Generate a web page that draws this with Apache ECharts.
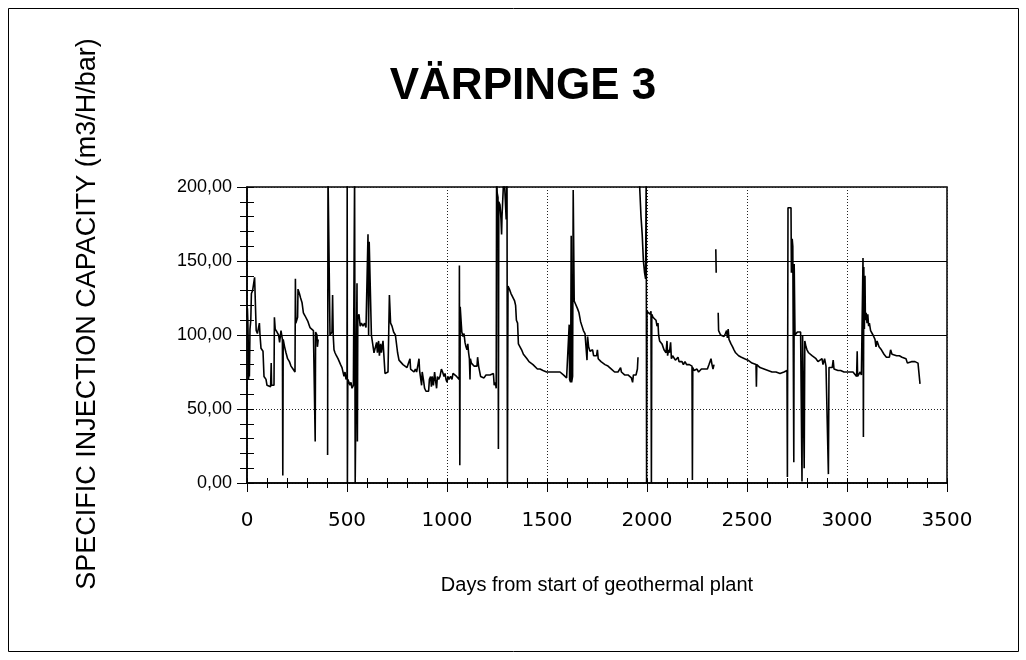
<!DOCTYPE html>
<html><head><meta charset="utf-8">
<script src="https://cdn.jsdelivr.net/npm/echarts/dist/echarts.min.js"></script>
<style>html,body{margin:0;padding:0;background:#fff}#c{width:1026px;height:660px}</style>
</head><body><div id="c"></div>
<script>
// Days from start of plant, and specific injection capacity (m3/H/bar); null = gap in record
const days = [
0,2,4,6,8,10,12,15,19,22,28,33,38,44,46,52,58,62,65,70,80,85,95,100,110,118,121,123,135,137,141,150,158,163,170,177,179,181,188,195,203,212,220,230,240,242,244,250,253,255,262,268,275,282,290,298,305,310,315,320,325,332,338,341,343,350,352,356,360,
403,405,413,415,425,428,431,435,440,447,455,462,468,475,480,485,490,495,500,501,502,504,510,515,520,525,532,536,538,541,549,550,552,554,560,566,572,580,588,595,603,605,608,611,620,622,628,635,645,648,652,658,662,668,672,680,688,690,698,705,710,712,718,725,733,742,750,753,760,770,780,790,800,810,815,818,825,835,842,848,855,860,863,870,873,876,882,888,895,900,908,912,918,922,926,932,938,942,948,952,958,965,972,978,985,990,995,1000,1005,1010,1018,1025,1030,1035,1040,1048,1055,1061,1062,1064,1066,1070,1074,1080,1085,1090,1095,1100,1104,1108,1112,1115,1117,1122,1128,1135,1142,1150,1153,1158,1165,1168,1175,1185,1195,1205,1215,1225,1232,1236,1240,1244,1246,1248,1251,1255,1257,1259,1265,1270,1273,1275,1282,1285,1292,1296,1300,1302,1305,1312,1320,1330,1338,1343,1347,1353,1357,1365,1373,1382,1390,1400,1410,1420,1430,1440,1452,1465,1480,1498,1520,1545,1565,1573,1582,1590,1598,1605,1608,1611,1613,1618,1621,1623,1628,1631,1636,1645,1652,1660,1668,1675,1682,1690,1698,1700,1703,1708,1715,1722,1728,1733,1740,1748,1752,1756,1763,1770,1780,1790,1797,1805,1813,1822,1830,1838,1847,1855,1862,1868,1872,1880,1888,1897,1905,1913,1922,1928,1932,1938,1945,1952,1955,1958,
1960,1965,1970,1976,1982,1988,1993,1996,1998,2000,2005,2010,2015,2020,2022,2024,2030,2037,2045,2050,2055,2058,2063,2068,2075,2080,2085,2090,2095,2100,2103,2108,2112,2118,2122,2128,2135,2142,2148,2155,2160,2168,2175,2182,2190,2198,2205,2212,2220,2225,2227,2229,2235,2242,2250,2258,2265,2272,2280,2288,2295,2302,2310,2315,2320,2325,2330,2335,2340,
2344,2346,2350,
2356,2358,2362,2368,2372,2378,2385,2392,2398,2402,2406,2410,2415,2420,2428,2435,2443,2450,2458,2465,2472,2480,2488,2495,2505,2515,2525,2535,2545,2547,2549,2558,2565,2575,2585,2595,2605,2615,2625,2635,2645,2655,2665,2675,2685,2695,2700,2702,2705,2720,2722,2726,2729,2734,2736,2740,2745,2752,2760,2768,2773,2775,2778,2782,2786,2789,2795,2800,2808,2815,2825,2835,2845,2855,2865,2875,2880,2888,2895,2905,2907,2910,2918,2926,2931,2935,2945,2955,2968,2985,3000,3015,3030,3040,3048,3051,3053,3060,3066,3072,3078,3080,3082,3084,3087,3090,3092,3096,3100,3104,3108,3112,3118,3125,3130,3135,3140,3145,3150,3155,3160,3166,3172,3178,3185,3190,3197,3205,3212,3218,3225,3235,3248,3262,3275,3285,3295,3302,3312,3322,3332,3340,3348,3355,3362,3365
];
const capacity = [
112,118,110,96,70,78,72,104,110,128,130,130,139,139,103,101,101,108,100,91,89,72,70,66,65,65,81,66,66,112,104,102,100,95,103,97,5,97,92,88,84,82,79,77,75,138,108,108,112,131,128,125,122,115,113,112,109,107,105,106,104,103,102,28,102,100,92,97,null,
19,210,210,100,102,127,100,90,88,86,84,84,80,78,77,72,75,70,72,210,0,70,68,66,68,64,66,66,210,0,0,135,28,112,114,106,108,106,108,105,106,168,100,163,163,100,100,88,87,95,88,96,86,94,88,96,95,74,74,75,74,127,108,106,102,100,99,88,83,82,80,79,78,77,84,77,76,75,77,75,80,84,76,75,66,75,70,64,62,61,62,70,72,65,72,66,75,70,64,72,70,72,77,75,72,74,70,68,72,70,72,70,74,75,73,72,72,70,147,12,119,118,102,99,101,95,92,90,94,88,84,70,84,81,82,79,80,79,85,79,80,72,72,71,73,72,73,74,74,66,68,66,64,210,196,193,23,190,188,178,168,180,179,210,210,178,210,0,133,131,128,127,123,120,110,108,94,92,90,87,86,84,82,81,80,79,77,77,76,75,75,75,75,76,73,72,71,70,70,107,70,68,167,68,72,198,123,122,118,115,109,106,103,101,100,83,99,92,89,88,90,86,85,86,90,84,83,82,81,80,79,79,78,77,77,75,76,75,76,78,75,74,73,74,73,73,71,68,73,72,73,77,85,null,
210,195,180,168,150,142,138,210,0,116,117,116,114,116,0,114,112,113,110,106,108,100,96,95,94,93,90,90,88,96,86,90,88,95,84,86,85,83,84,85,82,83,82,80,82,80,81,80,79,79,2,78,76,75,77,75,76,77,76,77,78,77,80,82,84,80,77,80,null,
158,142,null,
115,103,102,100,99,101,99,101,103,98,104,97,96,94,92,90,88,87,86,86,85,85,84,84,83,82,81,80,80,65,80,79,78,78,77,77,76,76,75,75,75,74,74,73,75,76,76,4,186,186,142,165,160,14,148,100,101,102,103,102,102,1,100,100,10,96,92,90,88,87,86,85,84,82,81,84,80,84,79,79,6,78,77,78,83,77,76,76,76,75,75,75,75,74,72,89,72,71,75,73,72,152,31,146,104,140,110,115,108,114,106,108,103,103,100,101,97,92,96,94,92,93,90,91,87,88,85,86,85,90,87,87,86,86,85,85,84,81,82,82,81,82,83,81,81,67
];
const xTicks = [0,500,1000,1500,2000,2500,3000,3500];
const yTicks = [0,50,100,150,200];
const solidGridValues = [100,150];

const chart = echarts.init(document.getElementById('c'), null, {renderer:'canvas'});
const data = days.map((d,i)=>[d, capacity[i]]);
const FONT = 'Liberation Sans, Arial, sans-serif';
const axisCommonX = {type:'value', min:xTicks[0], max:xTicks[xTicks.length-1], interval:500};
const axisCommonY = {type:'value', min:yTicks[0], max:yTicks[yTicks.length-1], interval:50};
chart.setOption({
  animation:false,
  backgroundColor:'#fff',
  grid:{left:247, top:187, right:79, bottom:177, show:true, borderColor:'#000', borderWidth:1.5, backgroundColor:'transparent'},
  xAxis:[
    Object.assign({}, axisCommonX, {
      position:'bottom',
      axisLine:{show:true, onZero:false, lineStyle:{color:'#000', width:1.5}},
      axisTick:{show:true, inside:false, length:9, lineStyle:{color:'#000', width:1}},
      minorTick:{show:true, splitNumber:5, length:5, lineStyle:{color:'#000', width:1}},
      axisLabel:{margin:28, color:'#000', fontSize:20, fontFamily:'DejaVu Sans, sans-serif', formatter:v=>String(v)},
      splitLine:{show:true, lineStyle:{color:'#222', type:[1,2], width:1}},
      minorSplitLine:{show:false}
    }),
    Object.assign({}, axisCommonX, {
      position:'bottom', offset:0,
      axisLine:{show:false, onZero:false},
      axisTick:{show:true, inside:true, length:5, lineStyle:{color:'#000', width:1}},
      minorTick:{show:true, splitNumber:5, length:5, lineStyle:{color:'#000', width:1}},
      axisLabel:{show:false}, splitLine:{show:false}
    })
  ],
  yAxis:[
    Object.assign({}, axisCommonY, {
      position:'left',
      axisLine:{show:true, onZero:false, lineStyle:{color:'#000', width:1.5}},
      axisTick:{show:true, inside:false, length:10, lineStyle:{color:'#000', width:1}},
      minorTick:{show:true, splitNumber:5, length:7, lineStyle:{color:'#000', width:1}},
      axisLabel:{margin:15, color:'#000', fontSize:18, fontFamily:FONT,
        formatter:v=>v.toFixed(2).replace('.', ',')},
      splitLine:{show:true, lineStyle:{color:'#222', type:[1,2], width:1}}
    }),
    Object.assign({}, axisCommonY, {
      position:'left', offset:0,
      axisLine:{show:false, onZero:false},
      axisTick:{show:true, inside:true, length:7, lineStyle:{color:'#000', width:1}},
      minorTick:{show:true, splitNumber:5, length:7, lineStyle:{color:'#000', width:1}},
      axisLabel:{show:false}, splitLine:{show:false}
    })
  ],
  graphic:[
    {type:'rect', shape:{x:8.5, y:8.5, width:1010, height:643}, style:{fill:'none', stroke:'#000', lineWidth:1}, silent:true},
    {type:'text', x:523, y:87, style:{text:'VÄRPINGE 3', font:'bold 44px Liberation Sans, Arial, sans-serif', fill:'#000', textAlign:'center', textVerticalAlign:'middle'}},
    {type:'text', x:88, y:314, rotation:Math.PI/2, style:{text:'SPECIFIC INJECTION CAPACITY (m3/H/bar)', font:'27px Liberation Sans, Arial, sans-serif', fill:'#000', textAlign:'center', textVerticalAlign:'middle'}},
    {type:'text', x:597, y:585, style:{text:'Days from start of geothermal plant', font:'20px Liberation Sans, Arial, sans-serif', fill:'#000', textAlign:'center', textVerticalAlign:'middle'}}
  ],
  series:[{
    type:'line', xAxisIndex:0, yAxisIndex:0, data:data, showSymbol:false, connectNulls:false,
    lineStyle:{color:'#000', width:1.6}, clip:true,
    markLine:{silent:true, symbol:'none', label:{show:false}, animation:false,
      lineStyle:{color:'#000', type:'solid', width:1.2},
      data:solidGridValues.map(v=>({yAxis:v}))}
  }]
});
</script>
</body></html>
